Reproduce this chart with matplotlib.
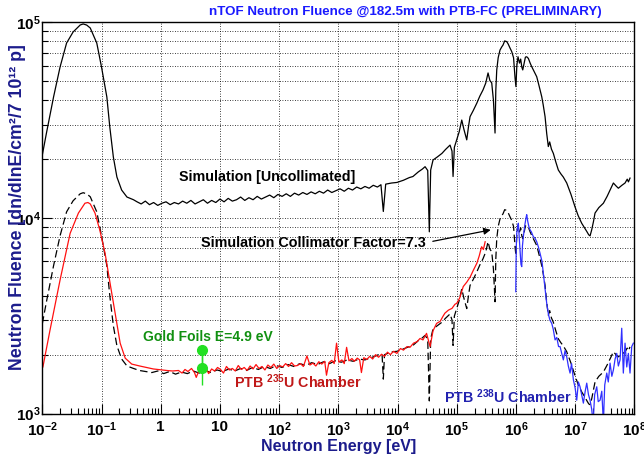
import matplotlib
matplotlib.use("Agg")
import matplotlib.pyplot as plt
from matplotlib.ticker import FixedLocator, FixedFormatter, NullFormatter
import numpy as np

plt.rcParams["font.family"] = ["Liberation Sans", "DejaVu Sans"]
plt.rcParams["font.weight"] = "bold"
plt.rcParams["mathtext.fontset"] = "custom"
plt.rcParams["mathtext.rm"] = "Liberation Sans:bold"
plt.rcParams["mathtext.bf"] = "Liberation Sans:bold"
plt.rcParams["mathtext.it"] = "Liberation Sans:bold"

# --------------------------------------------------------------------------
# Data (energies as log10(E / eV))
sim_log_e = [
    -2.00, -1.93, -1.81, -1.70, -1.59, -1.48, -1.36, -1.31, -1.25, -1.19,
    -1.08, -1.00, -0.91, -0.86, -0.80, -0.74, -0.66, -0.57, -0.46,
    -0.40, -0.33, -0.26, -0.19, -0.12, -0.05, 0.02, 0.09, 0.16, 0.23,
    0.30, 0.37, 0.44, 0.51, 0.58, 0.65, 0.72, 0.79, 0.86, 0.93,
    1.00, 1.07, 1.14, 1.21, 1.28, 1.35, 1.42, 1.49, 1.56, 1.63,
    1.70, 1.77, 1.84, 1.91, 1.98, 2.05, 2.12, 2.19, 2.26, 2.33,
    2.40, 2.47, 2.54, 2.61, 2.68, 2.75, 2.82, 2.89, 2.96, 3.03,
    3.10, 3.17, 3.24, 3.31, 3.38, 3.45, 3.52, 3.59, 3.66, 3.72,
    3.76, 3.80, 3.90, 3.99, 4.10, 4.20, 4.26, 4.35, 4.42, 4.465,
    4.51, 4.537, 4.56, 4.60, 4.67, 4.75, 4.81, 4.887, 4.92, 4.938,
    4.96, 5.00, 5.04, 5.085, 5.12, 5.169, 5.20, 5.225, 5.28, 5.338,
    5.39, 5.444, 5.49, 5.529, 5.56, 5.591, 5.62, 5.647, 5.66, 5.676,
    5.70, 5.731, 5.76, 5.782, 5.81, 5.845, 5.87, 5.90, 5.929, 5.96,
    5.985, 6.00, 6.015, 6.035, 6.06, 6.08, 6.10, 6.115, 6.14, 6.16,
    6.182, 6.21, 6.24, 6.267, 6.31, 6.351, 6.39, 6.436, 6.46, 6.492,
    6.52, 6.547, 6.57, 6.60, 6.632, 6.67, 6.716, 6.76, 6.80, 6.858,
    6.93, 6.998, 7.05, 7.111, 7.16, 7.20, 7.23, 7.252, 7.28, 7.31,
    7.336, 7.40, 7.477, 7.54, 7.60, 7.646, 7.69, 7.73, 7.79, 7.843,
    7.88, 7.90, 7.927,
]
sim_uncollimated = [
    21000, 27200, 41600, 59200, 78500, 89400, 97100, 98300, 97000, 93700,
    78500, 59200, 41600, 29200, 20500, 16200, 13900, 12800, 12400,
    12100, 11800, 12200, 11700, 12000, 11600, 11900, 12100, 11700, 12000,
    11800, 12200, 11900, 12300, 11800, 12100, 12400, 11900, 12300, 12000,
    12500, 12100, 12600, 12200, 12400, 12800, 12300, 12700, 12400, 12900,
    12500, 12800, 13100, 12700, 13200, 12900, 13300, 12900, 13400, 13100,
    13500, 13200, 13600, 13300, 13700, 13400, 13900, 13500, 13800, 14100,
    13700, 14200, 13900, 14400, 14100, 14500, 14200, 14700, 14400, 14800,
    10800, 14900, 15100, 15200, 15600, 16100, 16300, 17200, 17800, 18300,
    17500, 8500, 17600, 19800, 20500, 21400, 22400, 23600, 22000, 16300,
    23000, 25100, 27500, 31700, 28500, 25100, 29500, 33000, 35500, 38600,
    42000, 45200, 49000, 55200, 50500, 49100, 40000, 27200, 45000, 57200,
    66000, 72300, 75000, 76700, 80500, 79800, 77500, 74000, 71000, 66000,
    52000, 47000, 60000, 66800, 62000, 65000, 59000, 57200, 62000, 66500,
    66800, 65500, 62000, 59400, 56000, 52800, 47500, 41700, 38000, 33000,
    27000, 23200, 24500, 22500, 21400, 19500, 17600, 16800, 16200, 15100,
    13200, 11400, 10300, 9400, 8900, 8500, 8200, 8100, 8700, 9600,
    10600, 11300, 11900, 12900, 14100, 15100, 14600, 14200, 14700, 15100,
    15800, 15300, 16000,
]

coll_log_e = [
    -2.00, -1.93, -1.81, -1.70, -1.59, -1.48, -1.36, -1.31, -1.25, -1.19,
    -1.08, -1.00, -0.91, -0.86, -0.80, -0.74, -0.66, -0.57, -0.46,
    -0.36, -0.25, -0.15, -0.05, 0.05, 0.15, 0.25, 0.35, 0.45, 0.55,
    0.65, 0.75, 0.85, 0.95, 1.05, 1.15, 1.25, 1.35, 1.45, 1.55,
    1.65, 1.75, 1.85, 1.95, 2.05, 2.15, 2.25, 2.35, 2.45, 2.55,
    2.65, 2.75, 2.85, 2.95, 3.05, 3.15, 3.25, 3.35, 3.45, 3.55,
    3.65, 3.70, 3.74, 3.76, 3.78, 3.85, 3.92, 3.99, 4.10, 4.20,
    4.26, 4.35, 4.42, 4.465, 4.51, 4.537, 4.56, 4.60, 4.67, 4.75,
    4.81, 4.887, 4.92, 4.938, 4.96, 5.00, 5.04, 5.085, 5.12, 5.169,
    5.20, 5.225, 5.28, 5.338, 5.39, 5.444, 5.49, 5.529, 5.56, 5.591,
    5.62, 5.647, 5.66, 5.676, 5.70, 5.731, 5.76, 5.782, 5.81, 5.845,
    5.87, 5.90, 5.929, 5.96, 5.985, 6.00, 6.015, 6.035, 6.06, 6.08,
    6.10, 6.115, 6.14, 6.16, 6.182, 6.21, 6.24, 6.267, 6.31, 6.351,
    6.39, 6.436, 6.46, 6.492, 6.52, 6.547, 6.57, 6.60, 6.632, 6.67,
    6.716, 6.76, 6.80, 6.858, 6.93, 6.998, 7.05, 7.111, 7.16, 7.20,
    7.23, 7.252, 7.28, 7.31, 7.336, 7.40, 7.477, 7.54, 7.60, 7.646,
    7.69, 7.73, 7.79, 7.843, 7.88, 7.90, 7.927,
]
sim_collimated = [
    2880, 3730, 5700, 8110, 10750, 12250, 13300, 13470, 13290, 12840,
    10750, 8110, 5700, 4000, 2810, 2220, 1900, 1750, 1700,
    1660, 1640, 1620, 1650, 1600, 1640, 1590, 1630, 1600, 1650,
    1610, 1660, 1620, 1670, 1640, 1690, 1650, 1700, 1660, 1720,
    1680, 1740, 1700, 1760, 1720, 1780, 1740, 1800, 1760, 1820,
    1780, 1840, 1800, 1860, 1830, 1880, 1850, 1900, 1880, 1930,
    1980, 2020, 1980, 1500, 2000, 2040, 2070, 2080, 2140, 2200,
    2230, 2360, 2440, 2510, 2400, 1160, 2410, 2710, 2810, 2930,
    3070, 3230, 3010, 2230, 3150, 3440, 3770, 4340, 3900, 3440,
    4040, 4520, 4860, 5290, 5750, 6190, 6710, 7560, 6920, 6730,
    5480, 3730, 6160, 7840, 9040, 9900, 10270, 10510, 11030, 10930,
    10620, 10140, 9730, 9040, 7120, 6440, 8220, 9150, 8490, 8900,
    8080, 7840, 8490, 9110, 9150, 8970, 8490, 8140, 7670, 7230,
    6510, 5710, 5210, 4520, 3700, 3180, 3360, 3080, 2930, 2670,
    2410, 2300, 2220, 2070, 1810, 1560, 1410, 1290, 1220, 1160,
    1120, 1110, 1190, 1320, 1450, 1550, 1630, 1770, 1930, 2070,
    2000, 1950, 2010, 2070, 2160, 2100, 2190,
]

u235_log_e = [
    -1.99, -1.87, -1.70, -1.53, -1.39, -1.28, -1.23, -1.19, -1.11, -1.03,
    -0.94, -0.855, -0.77, -0.685, -0.60, -0.49, -0.355, -0.125, 0.10, 0.20,
    0.30, 0.36, 0.41, 0.46, 0.52, 0.57, 0.60, 0.66, 0.71, 0.76,
    0.81, 0.86, 0.91, 0.96, 1.01, 1.06, 1.11, 1.16, 1.21, 1.26,
    1.31, 1.36, 1.41, 1.46, 1.51, 1.56, 1.61, 1.66, 1.71, 1.76,
    1.81, 1.86, 1.91, 1.96, 2.01, 2.06, 2.11, 2.16, 2.21, 2.26,
    2.31, 2.36, 2.41, 2.47, 2.52, 2.57, 2.62, 2.67, 2.72, 2.77,
    2.80, 2.84, 2.89, 2.93, 2.97, 3.01, 3.06, 3.10, 3.14, 3.18,
    3.23, 3.27, 3.32, 3.36, 3.39, 3.43, 3.48, 3.53, 3.58, 3.63,
    3.68, 3.73, 3.78, 3.83, 3.88, 3.93, 3.99, 4.05, 4.10, 4.16,
    4.21, 4.27, 4.33, 4.38, 4.43, 4.49, 4.55, 4.60, 4.66, 4.72,
    4.77, 4.80, 4.86, 4.92, 4.97, 5.00, 5.05, 5.11, 5.17, 5.23,
    5.28, 5.34, 5.38, 5.42, 5.45, 5.48,
]
u235_flux = [
    1730, 2670, 4820, 8350, 10600, 11900, 12000, 11800, 10600, 8700,
    6600, 4630, 3260, 2290, 1920, 1790, 1750, 1690, 1660, 1650,
    1660, 1610, 1680, 1640, 1700, 1620, 1530, 1700, 1650, 1720,
    1600, 1690, 1650, 1720, 1680, 1610, 1740, 1670, 1700, 1650,
    1760, 1680, 1720, 1660, 1750, 1690, 1780, 1700, 1740, 1670,
    1770, 1720, 1790, 1700, 1760, 1730, 1800, 1740, 1820, 1750,
    1760, 1800, 1740, 1970, 1770, 1810, 1750, 1840, 1790, 1850,
    1570, 1820, 1870, 1800, 2290, 1830, 1880, 1800, 2180, 1860,
    1910, 1850, 1920, 1880, 1620, 1930, 1890, 1960, 1900, 2000,
    1940, 2010, 1960, 2060, 2000, 2080, 2030, 2150, 2110, 2200,
    2180, 2290, 2330, 2420, 2380, 2570, 2200, 2650, 2890, 2960,
    3150, 3260, 3380, 3450, 3620, 3660, 3900, 4460, 4700, 5010,
    5400, 5870, 6400, 7130, 6900, 7560,
]

u238_log_e = [
    5.997, 6.005, 6.014, 6.03, 6.041, 6.055, 6.069, 6.085, 6.098, 6.11,
    6.125, 6.15, 6.17, 6.182, 6.20, 6.22, 6.238, 6.26, 6.294, 6.32,
    6.351, 6.38, 6.407, 6.44, 6.463, 6.49, 6.52, 6.55, 6.575, 6.605,
    6.63, 6.661, 6.69, 6.72, 6.745, 6.77, 6.801, 6.83, 6.858, 6.885,
    6.914, 6.94, 6.97, 7.00, 7.027, 7.055, 7.083, 7.11, 7.139, 7.17,
    7.196, 7.225, 7.252, 7.28, 7.303, 7.33, 7.365, 7.39, 7.421, 7.45,
    7.477, 7.50, 7.534, 7.56, 7.59, 7.62, 7.646, 7.675, 7.703, 7.73,
    7.759, 7.787, 7.814, 7.843, 7.872, 7.899, 7.927, 7.956, 7.983,
]
u238_flux = [
    4200, 7000, 8360, 9100, 9400, 8000, 6860, 5800, 5640, 7200,
    8020, 9200, 10000, 10400, 9600, 9000, 8700, 8500, 8020, 7900,
    7560, 7100, 6600, 6000, 5210, 4400, 3660, 3200, 3000, 2890,
    2700, 2380, 2450, 2200, 2200, 2050, 1880, 2100, 1950, 1750,
    1610, 1800, 1490, 1350, 1170, 1450, 1370, 1250, 1130, 1300,
    1430, 1250, 1170, 1050, 900, 1250, 1370, 1150, 1170, 1300,
    900, 1400, 1610, 1450, 1810, 1550, 1670, 1900, 2030, 1750,
    1880, 2730, 1610, 2290, 1730, 2030, 1610, 2200, 2290,
]

gold_energy = [4.9, 4.9]
gold_flux = [2110, 1710]
gold_err_low = [400, 310]
gold_err_high = [130, 400]

x_tick_exponents = [-2, -1, 0, 1, 2, 3, 4, 5, 6, 7, 8]
y_tick_exponents = [3, 4, 5]

# --------------------------------------------------------------------------
figure = plt.figure(figsize=(6.44, 4.59), dpi=100)
axis = figure.add_axes([0.0657, 0.0991, 0.9193, 0.8519])

axis.set_xscale("log")
axis.set_yscale("log")
axis.set_xlim(1e-2, 1e8)
axis.set_ylim(1e3, 1e5)

axis.plot(10 ** np.array(sim_log_e), sim_uncollimated, color="black", linewidth=0.9)
axis.plot(
    10 ** np.array(coll_log_e),
    sim_collimated,
    color="black",
    linewidth=0.9,
    dashes=(6, 3),
)
axis.plot(10 ** np.array(u235_log_e), u235_flux, color="#ff1010", linewidth=0.9)
axis.plot(10 ** np.array(u238_log_e), u238_flux, color="#3030ff", linewidth=0.9)
axis.errorbar(
    gold_energy,
    gold_flux,
    yerr=[gold_err_low, gold_err_high],
    fmt="o",
    color="#22e022",
    markersize=7,
    elinewidth=1,
    capsize=0,
)

# Ticks and grid
major_x = [10.0**e for e in x_tick_exponents]
x_labels = []
for e in x_tick_exponents:
    if e == 0:
        x_labels.append("1")
    elif e == 1:
        x_labels.append("10")
    else:
        x_labels.append(r"$\mathbf{10^{%d}}$" % e)
axis.xaxis.set_major_locator(FixedLocator(major_x))
axis.xaxis.set_major_formatter(FixedFormatter(x_labels))
minor_x = [m * 10.0**e for e in x_tick_exponents[:-1] for m in range(2, 10)]
axis.xaxis.set_minor_locator(FixedLocator(minor_x))
axis.xaxis.set_minor_formatter(NullFormatter())

major_y = [10.0**e for e in y_tick_exponents]
axis.yaxis.set_major_locator(FixedLocator(major_y))
axis.yaxis.set_major_formatter(
    FixedFormatter([r"$\mathbf{10^{%d}}$" % e for e in y_tick_exponents])
)
minor_y = [m * 10.0**e for e in y_tick_exponents[:-1] for m in range(2, 10)]
axis.yaxis.set_minor_locator(FixedLocator(minor_y))
axis.yaxis.set_minor_formatter(NullFormatter())

axis.tick_params(which="both", direction="in", top=False, right=False,
                 labelsize=11, width=0.8)
axis.tick_params(which="major", length=7)
axis.tick_params(which="minor", length=4)
axis.tick_params(axis="x", pad=5)
axis.tick_params(axis="y", pad=1)

axis.grid(which="major", axis="x", color="black", linestyle=(0, (1, 2)), linewidth=0.6)
axis.grid(which="both", axis="y", color="black", linestyle=(0, (1, 2)), linewidth=0.6)
for spine in axis.spines.values():
    spine.set_linewidth(1.0)

# Labels
axis.set_xlabel("Neutron Energy [eV]", color="#1c1c8c", fontsize=11.5,
                fontweight="bold", labelpad=0)
figure.text(0.027, 0.549, "Neutron Fluence [dn/dlnE/cm\u00b2/7 10\u00b9\u00b2 p]",
            rotation=90, ha="center", va="center", color="#1c1c8c",
            fontsize=12.8, fontweight="bold")
figure.text(0.630, 0.974, "nTOF Neutron Fluence @182.5m with PTB-FC (PRELIMINARY)",
            ha="center", va="center", color="#1a1aff", fontsize=9.6,
            fontweight="bold")

axis.text(0.380, 0.606, "Simulation [Uncollimated]", transform=axis.transAxes,
          ha="center", va="center", fontsize=10.3, color="black")
axis.text(0.458, 0.436, "Simulation Collimator Factor=7.3", transform=axis.transAxes,
          ha="center", va="center", fontsize=10.4, color="black")
axis.annotate("", xy=(0.762, 0.471), xytext=(0.655, 0.439), xycoords="axes fraction",
              arrowprops=dict(arrowstyle="-|>", color="black", lw=0.9,
                              mutation_scale=10))
axis.text(0.280, 0.196, "Gold Foils E=4.9 eV", transform=axis.transAxes,
          ha="center", va="center", fontsize=10, color="#119011")
axis.text(0.432, 0.081, r"PTB $^{235}$U Chamber", transform=axis.transAxes,
          ha="center", va="center", fontsize=10.3, color="#c01818")
axis.text(0.786, 0.042, r"PTB $^{238}$U Chamber", transform=axis.transAxes,
          ha="center", va="center", fontsize=10.3, color="#2222b0")

figure.savefig("out.png", dpi=100)
